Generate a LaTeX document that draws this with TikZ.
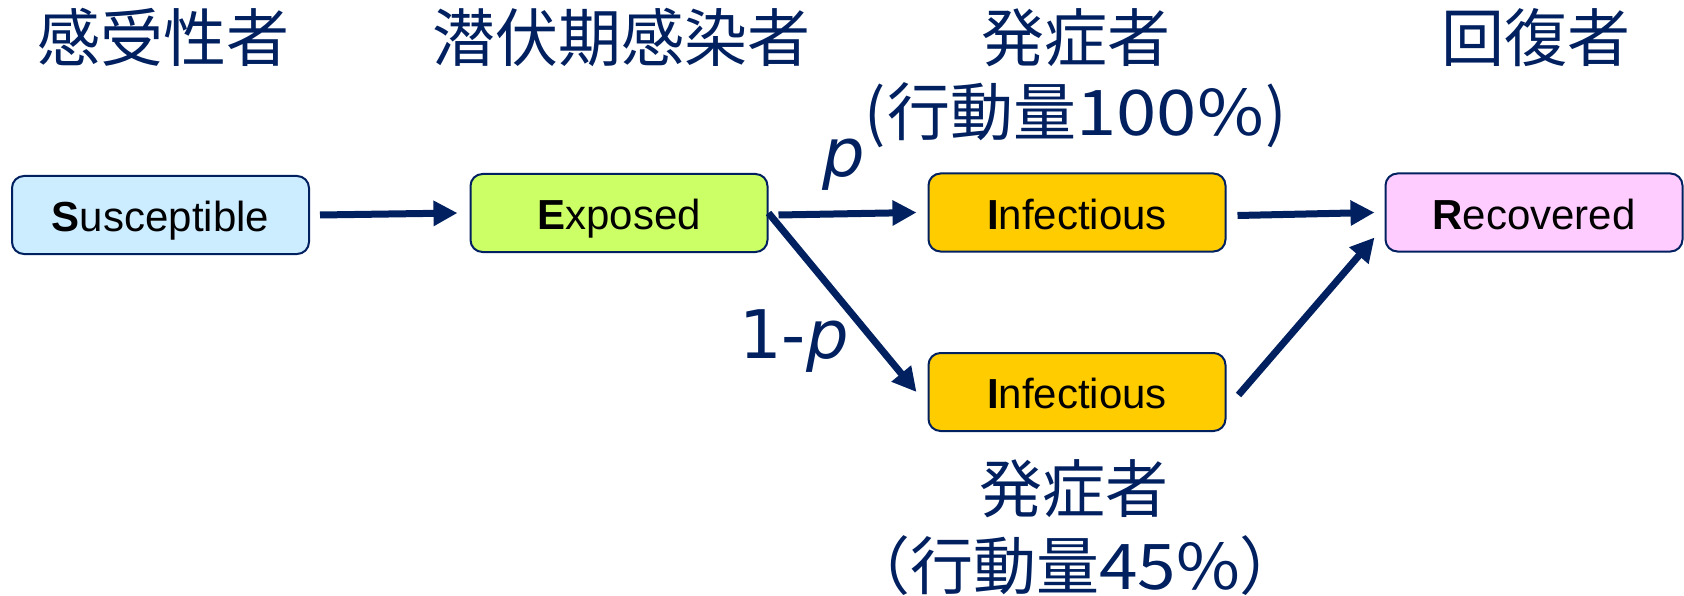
\documentclass[tikz,border=0pt]{standalone}
\usepackage{fontspec}
\setmainfont{Liberation Sans}
\newfontfamily\jp{Noto Sans CJK JP}
\newfontfamily\dv{DejaVu Sans}
\usetikzlibrary{arrows.meta,calc}
\definecolor{navy}{HTML}{002060}
\definecolor{sfill}{HTML}{CCECFF}
\definecolor{efill}{HTML}{CCFF66}
\definecolor{ifill}{HTML}{FFCC00}
\definecolor{rfill}{HTML}{FFCCFF}
\begin{document}
\begin{tikzpicture}[x=1pt,y=-1pt,
  box/.style={draw=navy, line width=2pt, rounded corners=12pt, minimum width=297pt, minimum height=78pt, inner sep=0pt, text height=33.6pt, text depth=0pt, text=black, font=\fontsize{42}{50}\selectfont},
  arr/.style={draw=navy, line width=7pt, -{Triangle[length=24pt,width=24pt]}},
  jtitle/.style={text=navy, inner sep=0pt, font=\jp\fontsize{63}{72}\selectfont},
  plab/.style={text=navy, inner sep=0pt, font=\dv\fontsize{67}{76}\selectfont}]
\useasboundingbox (0,0) rectangle (1684,596);
% boxes
\node[box, fill=sfill] (S) at (160.5,215) {\textbf{S}usceptible};
\node[box, fill=efill] (E) at (619,213) {\textbf{E}xposed};
\node[box, fill=ifill] (I1) at (1077,212.5) {\textbf{I}nfectious};
\node[box, fill=ifill] (I2) at (1077,392) {\textbf{I}nfectious};
\node[box, fill=rfill] (R) at (1534,212.5) {\textbf{R}ecovered};
% titles
\node[jtitle] (t1) at (163.5,37.5) {感受性者};
\node[jtitle] (t2) at (621,37.5) {潜伏期感染者};
\node[jtitle] (t3) at (1076,37.5) {発症者};
\node[jtitle] (t4) at (1535.5,37.5) {回復者};
\node[jtitle, anchor=west] (t5) at (864,115) {(\kern2pt 行動量\scalebox{1.15}[1]{100\%}\kern2pt)};
\node[jtitle] (t6) at (1074,489) {発症者};
\node[jtitle] (t7) at (1075,566) {（行動量\scalebox{1.1}[1]{45\%}）};
% labels
\node[plab, anchor=base] (lp) at (844,177) {\itshape p};
\node[plab, anchor=base] (lq) at (794,358) {1-{\itshape p}};
% arrows
\draw[arr] ($(S.east)+(10,0)$) -- ($(E.west)+(-12,0)$);
\draw[arr] ($(E.east)+(10,2)$) -- ($(I1.west)+(-11,0)$);
\draw[arr] (E.east) -- ($(I2.west)+(-11,0)$);
\draw[arr] ($(I1.east)+(11,3)$) -- ($(R.west)+(-10,0)$);
\draw[arr] ($(I2.east)+(12,3)$) -- ($(R.west)+(-10,25)$);
\end{tikzpicture}
\end{document}
